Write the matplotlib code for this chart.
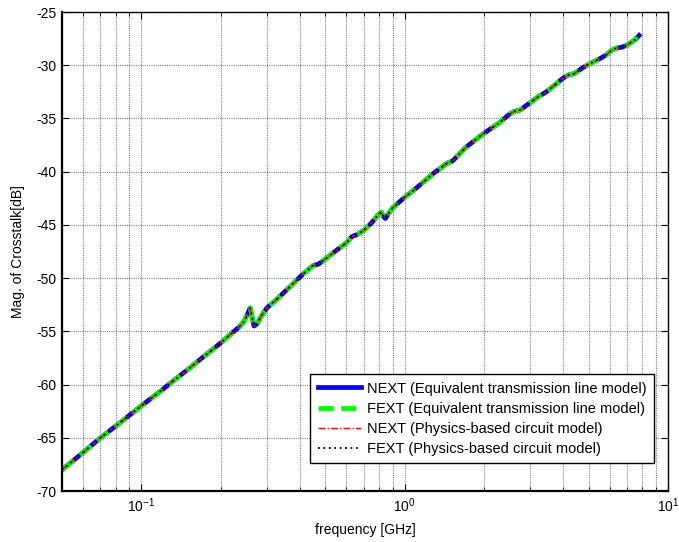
import matplotlib
matplotlib.use("Agg")
import matplotlib.pyplot as plt
from matplotlib.ticker import LogLocator, NullFormatter, MultipleLocator

plt.rcParams['font.family'] = ['Liberation Sans', 'DejaVu Sans']
plt.rcParams['mathtext.default'] = 'regular'
plt.rcParams['axes.unicode_minus'] = False

# ---- data ----
freq_ghz = [0.05, 0.06, 0.07, 0.08, 0.09, 0.1, 0.12, 0.133, 0.15, 0.17, 0.2,
            0.22, 0.235, 0.245, 0.253, 0.259, 0.263, 0.268, 0.275, 0.285, 0.3,
            0.33, 0.36, 0.4, 0.43, 0.45, 0.47, 0.5, 0.55, 0.6, 0.63, 0.66, 0.7,
            0.75, 0.79, 0.815, 0.83, 0.845, 0.87, 0.9, 0.95, 1.0, 1.1, 1.28,
            1.45, 1.52, 1.71, 2.0, 2.29, 2.5, 2.6, 2.75, 3.0, 3.24, 3.35, 3.45,
            3.7, 4.0, 4.2, 4.4, 4.7, 5.0, 5.5, 5.85, 6.1, 6.35, 6.7, 7.0, 7.5,
            7.77]
next_etl = [-68.0, -66.4, -65.0, -63.9, -62.9, -62.0, -60.5, -59.6, -58.6,
            -57.5, -56.1, -55.2, -54.6, -54.1, -53.4, -52.8, -53.6, -54.5,
            -54.3, -53.6, -52.8, -51.9, -51.0, -49.9, -49.2, -48.8, -48.7,
            -48.2, -47.4, -46.7, -46.1, -45.9, -45.5, -44.8, -44.1, -43.8,
            -44.2, -44.4, -43.9, -43.4, -42.9, -42.4, -41.6, -40.2, -39.2,
            -39.0, -37.7, -36.4, -35.4, -34.6, -34.35, -34.2, -33.5, -32.9,
            -32.7, -32.5, -31.9, -31.2, -30.9, -30.8, -30.3, -29.9, -29.4,
            -29.0, -28.6, -28.4, -28.3, -28.1, -27.6, -27.2]
fext_etl = next_etl[:-1] + [-26.7]
next_pbc = list(next_etl)
fext_pbc = list(next_etl)

labels = ["NEXT (Equivalent transmission line model)",
          "FEXT (Equivalent transmission line model)",
          "NEXT (Physics-based circuit model)",
          "FEXT (Physics-based circuit model)"]

fig = plt.figure(figsize=(6.79, 5.42), dpi=100)
ax = fig.add_axes([62/679, 51/542, 606/679, 479/542])

ax.semilogx(freq_ghz, next_etl, color='#0000ff', lw=3.4, ls='-', label=labels[0])
ax.semilogx(freq_ghz, fext_etl, color='#00ff00', lw=3.4, ls=(0, (3.2, 1.6)), label=labels[1])
ax.semilogx(freq_ghz, next_pbc, color='#ff0000', lw=1.0, ls=(0, (5, 1.5, 1, 1.5)), label=labels[2])
ax.semilogx(freq_ghz, fext_pbc, color='#000000', lw=1.3, ls=(0, (1, 2)), label=labels[3])

ax.set_xlim(0.05, 10)
ax.set_ylim(-70, -25)
ax.yaxis.set_major_locator(MultipleLocator(5))
ax.xaxis.set_major_locator(LogLocator(base=10, numticks=10))
ax.xaxis.set_minor_locator(LogLocator(base=10, subs=range(2, 10), numticks=20))
ax.xaxis.set_minor_formatter(NullFormatter())

ax.tick_params(which='both', direction='in', top=True, right=True, labelsize=10)
ax.tick_params(which='major', length=5, width=0.8, pad=4)
ax.tick_params(which='minor', length=3, width=0.6)

grid_kw = dict(color='0.5', lw=0.8, ls=(0, (1, 1)))
ax.grid(True, which='major', axis='both', **grid_kw)
ax.grid(True, which='minor', axis='x', **grid_kw)
ax.set_axisbelow(True)

for s in ax.spines.values():
    s.set_linewidth(1.0)
ax.spines['bottom'].set_linewidth(1.6)
ax.spines['left'].set_linewidth(1.6)

ax.set_xlabel('frequency [GHz]', fontsize=10, labelpad=6)
ax.set_ylabel('Mag. of Crosstalk[dB]', fontsize=10, labelpad=8)

leg = ax.legend(loc='lower right', bbox_to_anchor=(0.977, 0.058), borderaxespad=0,
                fontsize=10.5, handlelength=3.0, handletextpad=0.4,
                labelspacing=0.42, borderpad=0.5, fancybox=False,
                edgecolor='black', framealpha=1)
leg.get_frame().set_linewidth(1.0)

fig.savefig('out.png', dpi=100)
